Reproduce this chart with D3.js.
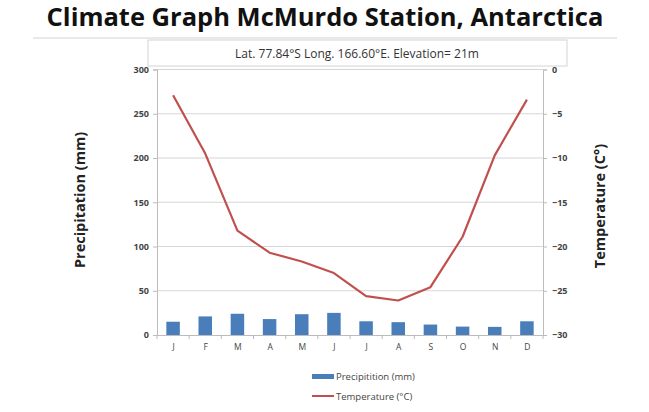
<!DOCTYPE html>
<html><head><meta charset="utf-8">
<script src="https://cdn.jsdelivr.net/npm/d3@7"></script>
<style>body{margin:0;background:#fff;} svg{display:block;}</style>
</head><body>
<svg id="c" width="649" height="412"></svg>
<script>
const months = ["J","F","M","A","M","J","J","A","S","O","N","D"];
const precipitation = [15, 21, 24, 18, 23.5, 25, 15.5, 14.5, 11.8, 9.5, 9.2, 15.5];
const temperature = [-2.9, -9.5, -18.2, -20.7, -21.7, -23.0, -25.6, -26.1, -24.6, -18.9, -9.7, -3.4];
const precipTicks = [0, 50, 100, 150, 200, 250, 300];
const tempTicks = [0, -5, -10, -15, -20, -25, -30];

const svg = d3.select("#c");
const font = "'Open Sans', 'Liberation Sans', sans-serif";
const L = 157, R = 543, T = 69.5, B = 335;

// title
svg.append("text").attr("x", 325).attr("y", 26).attr("text-anchor", "middle")
  .attr("font-family", font).attr("font-weight", "bold").attr("font-size", 25.5)
  .attr("fill", "#111").text("Climate Graph McMurdo Station, Antarctica");
svg.append("line").attr("x1", 33).attr("x2", 617).attr("y1", 38).attr("y2", 38)
  .attr("stroke", "#e2e2e2").attr("stroke-width", 1.5);

// subtitle box
svg.append("rect").attr("x", 148).attr("y", 40).attr("width", 419).attr("height", 26)
  .attr("fill", "#fff").attr("stroke", "#d4d4d4");
svg.append("text").attr("x", 357).attr("y", 58).attr("text-anchor", "middle")
  .attr("font-family", font).attr("font-size", 12).attr("fill", "#333")
  .text("Lat. 77.84°S Long. 166.60°E. Elevation= 21m");

const x = d3.scaleBand().domain(d3.range(12)).range([L, R]).paddingInner(0.58).paddingOuter(0.29);
const xp = d3.scalePoint().domain(d3.range(12)).range([L, R]).padding(0.5);
const yL = d3.scaleLinear().domain([0, 300]).range([B, T]);
const yR = d3.scaleLinear().domain([-30, 0]).range([B, T]);

// gridlines
svg.append("g").selectAll("line").data(precipTicks.slice(1)).join("line")
  .attr("x1", L).attr("x2", R).attr("y1", d => yL(d)).attr("y2", d => yL(d))
  .attr("stroke", "#d6d6d6").attr("stroke-width", 1.2);

// left axis
const gl = svg.append("g").attr("transform", `translate(${L},0)`)
  .call(d3.axisLeft(yL).tickValues(precipTicks).tickSize(4).tickPadding(4));
gl.selectAll("path,line").attr("stroke", "#bcbcbc");
gl.selectAll("text").attr("font-family", font).attr("font-size", 9).attr("font-weight", "bold").attr("fill", "#444");

// right axis
const gr = svg.append("g").attr("transform", `translate(${R},0)`)
  .call(d3.axisRight(yR).tickValues(tempTicks).tickSize(4).tickPadding(5));
gr.selectAll("path,line").attr("stroke", "#bcbcbc");
gr.selectAll("text").attr("font-family", font).attr("font-size", 9).attr("font-weight", "bold").attr("fill", "#444");

// bottom axis
const gb = svg.append("g").attr("transform", `translate(0,${B})`)
  .call(d3.axisBottom(xp).tickFormat(i => months[i]).tickSize(0).tickPadding(9));
gb.select("path").attr("stroke", "#bcbcbc");
gb.selectAll("text").attr("font-family", font).attr("font-size", 8.5).attr("fill", "#444");
const step = (R - L) / 12;
svg.append("g").selectAll("line").data(d3.range(13)).join("line")
  .attr("x1", i => L + i * step).attr("x2", i => L + i * step)
  .attr("y1", B).attr("y2", B + 4).attr("stroke", "#bcbcbc");

// bars
svg.append("g").selectAll("rect").data(precipitation).join("rect")
  .attr("x", (d, i) => x(i)).attr("width", x.bandwidth())
  .attr("y", d => yL(d)).attr("height", d => B - yL(d))
  .attr("fill", "#4a7ebb");

// temperature line
svg.append("path").datum(temperature)
  .attr("d", d3.line().x((d, i) => xp(i)).y(d => yR(d)))
  .attr("fill", "none").attr("stroke", "#c0504d").attr("stroke-width", 2.2)
  .attr("stroke-linejoin", "round");

// axis titles
svg.append("text").attr("transform", "translate(85,200) rotate(-90)").attr("text-anchor", "middle")
  .attr("font-family", font).attr("font-weight", "bold").attr("font-size", 14.5).attr("fill", "#222")
  .text("Precipitation (mm)");
svg.append("text").attr("transform", "translate(605,206) rotate(-90)").attr("text-anchor", "middle")
  .attr("font-family", font).attr("font-weight", "bold").attr("font-size", 14.5).attr("fill", "#222")
  .text("Temperature (C°)");

// legend
const lg = svg.append("g");
lg.append("rect").attr("x", 312).attr("y", 374).attr("width", 22).attr("height", 5).attr("fill", "#4a7ebb");
lg.append("text").attr("x", 336).attr("y", 380).attr("font-family", font).attr("font-size", 9.5).attr("fill", "#444")
  .text("Precipitition (mm)");
lg.append("line").attr("x1", 312).attr("x2", 334).attr("y1", 396).attr("y2", 396)
  .attr("stroke", "#c0504d").attr("stroke-width", 2);
lg.append("text").attr("x", 336).attr("y", 399.5).attr("font-family", font).attr("font-size", 9.5).attr("fill", "#444")
  .text("Temperature (°C)");
</script>
</body></html>
